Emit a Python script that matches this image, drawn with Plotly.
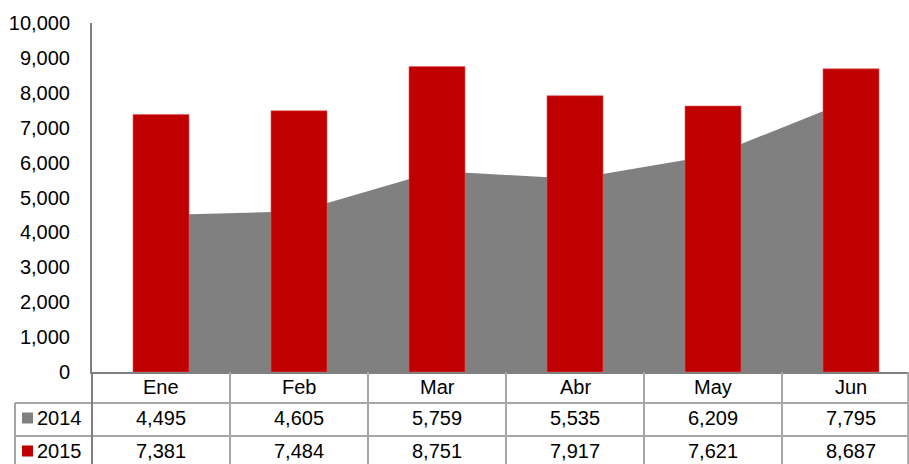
import plotly.graph_objects as go

# Monthly values
months = ['Ene', 'Feb', 'Mar', 'Abr', 'May', 'Jun']
series_names = ['2014', '2015']
values_2014 = [4495, 4605, 5759, 5535, 6209, 7795]
values_2015 = [7381, 7484, 8751, 7917, 7621, 8687]
y_ticks = [0, 1000, 2000, 3000, 4000, 5000, 6000, 7000, 8000, 9000, 10000]

GRAY = '#808080'
RED = '#C00000'
LINE = '#A6A6A6'
FONT = 'Arial, Liberation Sans, sans-serif'

W, H = 909, 464
ML, MR, MT, MB = 92, 0, 23, 92
plot_w = W - ML - MR
plot_h = H - MT - MB
# the original chart is slightly wider than the picture: last column is cut
x_range = [-0.5, len(months) - 0.5 - (920 - W) / 138]


def py(pix):
    # pixel row -> paper y
    return (H - MB - pix) / plot_h


def px(pix):
    # pixel column -> paper x
    return (pix - ML) / plot_w


fig = go.Figure()

# 2014 as a grey area (main axes, drawn underneath)
fig.add_trace(go.Scatter(
    x=months, y=values_2014, name='2014',
    mode='lines', line=dict(width=0, color=GRAY),
    fill='tozeroy', fillcolor=GRAY,
    hovertemplate='%{x}: %{y:,}<extra>2014</extra>'
))

# 2015 as red bars on an overlaid axis so they sit on top of the area
fig.add_trace(go.Bar(
    x=months, y=values_2015, name='2015', yaxis='y2',
    width=0.406, marker=dict(color=RED, line=dict(color='#E05A5A', width=0.6)),
    hovertemplate='%{x}: %{y:,}<extra>2015</extra>'
))

fig.update_layout(
    width=W, height=H,
    margin=dict(l=ML, r=MR, t=MT, b=MB, autoexpand=False),
    plot_bgcolor='white', paper_bgcolor='white',
    showlegend=False,
    font=dict(family=FONT, size=20, color='black'),
    xaxis=dict(
        type='category', range=x_range, showticklabels=False,
        showgrid=False, zeroline=False, automargin=False,
        showline=True, linecolor=GRAY, linewidth=2,
    ),
    yaxis=dict(
        range=[0, 10000], tickvals=y_ticks, tickformat=',d',
        showgrid=False, zeroline=False, automargin=False,
        showline=True, linecolor=GRAY, linewidth=2,
        ticks='', ticklabelstandoff=16,
        tickfont=dict(size=20),
    ),
    yaxis2=dict(range=[0, 10000], overlaying='y', visible=False),
)

# ---- data table under the plot ----
header_y = py(387)
row_y = [py(418), py(451)]
shapes = []
annotations = []

# horizontal rules
for pix in (403, 436):
    shapes.append(dict(type='line', xref='paper', yref='paper',
                       x0=px(15), x1=1, y0=py(pix), y1=py(pix),
                       line=dict(color=LINE, width=2)))

# vertical rules: column separators between months
for k in range(len(months) - 1):
    shapes.append(dict(type='line', xref='x', yref='paper',
                       x0=k + 0.5, x1=k + 0.5, y0=0, y1=py(H),
                       line=dict(color=LINE, width=2)))
# right border
shapes.append(dict(type='line', xref='paper', yref='paper',
                   x0=0.999, x1=0.999, y0=0, y1=py(H),
                   line=dict(color=LINE, width=2)))
# extension of the y axis down through the table
shapes.append(dict(type='line', xref='paper', yref='paper',
                   x0=0, x1=0, y0=0, y1=py(H),
                   line=dict(color=GRAY, width=2)))
# left border of row labels
shapes.append(dict(type='line', xref='paper', yref='paper',
                   x0=px(15), x1=px(15), y0=py(403), y1=py(H),
                   line=dict(color=LINE, width=2)))

# header: month names
for m in months:
    annotations.append(dict(x=m, xref='x', y=header_y, yref='paper',
                            xanchor='center', yanchor='middle',
                            text=m, showarrow=False, font=dict(size=20)))

# rows: legend key + values
for name, vals, color, yy in [(series_names[0], values_2014, GRAY, row_y[0]),
                              (series_names[1], values_2015, RED, row_y[1])]:
    dy = 5.5 / plot_h
    shapes.append(dict(type='rect', xref='paper', yref='paper',
                       x0=px(22), x1=px(33), y0=yy - dy, y1=yy + dy,
                       fillcolor=color, line=dict(width=0)))
    annotations.append(dict(x=px(35), xref='paper', y=yy, yref='paper',
                            text=name, showarrow=False,
                            xanchor='left', yanchor='middle',
                            font=dict(size=20)))
    for m, v in zip(months, vals):
        annotations.append(dict(x=m, xref='x', y=yy, yref='paper',
                                xanchor='center', yanchor='middle',
                                text=f'{v:,}', showarrow=False, font=dict(size=20)))

fig.update_layout(shapes=shapes, annotations=annotations)

# drop the default page margin so the 909x464 figure fills the window exactly
fig.write_html('out.html', config={'displayModeBar': False},
               post_script="document.body.style.margin='0';")
